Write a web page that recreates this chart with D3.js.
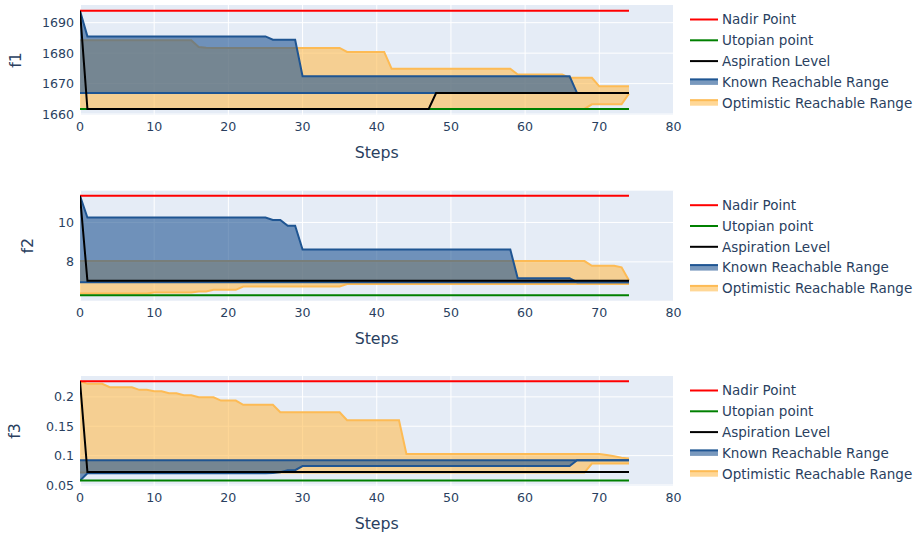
<!DOCTYPE html>
<html>
<head>
<meta charset="utf-8">
<script src="https://cdn.jsdelivr.net/npm/d3@7"></script>
<style>
  body { margin: 0; background: #fff; }
  text { font-family: "DejaVu Sans", Verdana, sans-serif; fill: #2a3f5f; }
</style>
</head>
<body>
<div id="chart"></div>
<script>
// steps on the x axis
var steps = [0,1,2,3,4,5,6,7,8,9,10,11,12,13,14,
  15,16,17,18,19,20,21,22,23,24,25,26,27,28,29,
  30,31,32,33,34,35,36,37,38,39,40,41,42,43,44,
  45,46,47,48,49,50,51,52,53,54,55,56,57,58,59,
  60,61,62,63,64,65,66,67,68,69,70,71,72,73,74];

var xTicks = [0,10,20,30,40,50,60,70,80];
var objectives = ["f1", "f2", "f3"];
var yTicks = [[1660,1670,1680,1690], [8,10], [0.05,0.1,0.15,0.2]];
var nadir = [1693.9, 11.35, 0.2265];
var utopian = [1661.7, 6.31, 0.0575];
var legendNames = ["Nadir Point", "Utopian point", "Aspiration Level", "Known Reachable Range", "Optimistic Reachable Range"];

// f1
var f1Aspiration = [1693.9,1661.7,1661.7,1661.7,1661.7,1661.7,1661.7,1661.7,1661.7,1661.7,1661.7,1661.7,1661.7,1661.7,1661.7,
  1661.7,1661.7,1661.7,1661.7,1661.7,1661.7,1661.7,1661.7,1661.7,1661.7,1661.7,1661.7,1661.7,1661.7,1661.7,
  1661.7,1661.7,1661.7,1661.7,1661.7,1661.7,1661.7,1661.7,1661.7,1661.7,1661.7,1661.7,1661.7,1661.7,1661.7,
  1661.7,1661.7,1661.7,1666.9,1666.9,1666.9,1666.9,1666.9,1666.9,1666.9,1666.9,1666.9,1666.9,1666.9,1666.9,
  1666.9,1666.9,1666.9,1666.9,1666.9,1666.9,1666.9,1666.9,1666.9,1666.9,1666.9,1666.9,1666.9,1666.9,1666.9];
var f1KnownUpper = [1693.9,1685.5,1685.5,1685.5,1685.5,1685.5,1685.5,1685.5,1685.5,1685.5,1685.5,1685.5,1685.5,1685.5,1685.5,
  1685.5,1685.5,1685.5,1685.5,1685.5,1685.5,1685.5,1685.5,1685.5,1685.5,1685.5,1684.4,1684.4,1684.4,1684.4,
  1672.4,1672.4,1672.4,1672.4,1672.4,1672.4,1672.4,1672.4,1672.4,1672.4,1672.4,1672.4,1672.4,1672.4,1672.4,
  1672.4,1672.4,1672.4,1672.4,1672.4,1672.4,1672.4,1672.4,1672.4,1672.4,1672.4,1672.4,1672.4,1672.4,1672.4,
  1672.4,1672.4,1672.4,1672.4,1672.4,1672.4,1672.4,1666.9,1666.9,1666.9,1666.9,1666.9,1666.9,1666.9,1666.9];
var f1KnownLower = [1666.9,1666.9,1666.9,1666.9,1666.9,1666.9,1666.9,1666.9,1666.9,1666.9,1666.9,1666.9,1666.9,1666.9,1666.9,
  1666.9,1666.9,1666.9,1666.9,1666.9,1666.9,1666.9,1666.9,1666.9,1666.9,1666.9,1666.9,1666.9,1666.9,1666.9,
  1666.9,1666.9,1666.9,1666.9,1666.9,1666.9,1666.9,1666.9,1666.9,1666.9,1666.9,1666.9,1666.9,1666.9,1666.9,
  1666.9,1666.9,1666.9,1666.9,1666.9,1666.9,1666.9,1666.9,1666.9,1666.9,1666.9,1666.9,1666.9,1666.9,1666.9,
  1666.9,1666.9,1666.9,1666.9,1666.9,1666.9,1666.9,1666.9,1666.9,1666.9,1666.9,1666.9,1666.9,1666.9,1666.9];
var f1OptUpper = [1684.2,1684.2,1684.2,1684.2,1684.2,1684.2,1684.2,1684.2,1684.2,1684.2,1684.2,1684.2,1684.2,1684.2,1684.2,
  1684.2,1682.0,1681.8,1681.7,1681.7,1681.7,1681.7,1681.7,1681.7,1681.7,1681.7,1681.7,1681.7,1681.7,1681.7,
  1681.7,1681.7,1681.7,1681.7,1681.7,1681.7,1680.4,1680.4,1680.4,1680.4,1680.4,1680.4,1674.9,1674.9,1674.9,
  1674.9,1674.9,1674.9,1674.9,1674.9,1674.9,1674.9,1674.9,1674.9,1674.9,1674.9,1674.9,1674.9,1674.9,1673.0,
  1673.0,1673.0,1673.0,1673.0,1673.0,1673.0,1671.9,1671.9,1671.9,1671.9,1669.1,1669.1,1669.1,1669.1,1669.1];
var f1OptLower = [1661.7,1661.7,1661.7,1661.7,1661.7,1661.7,1661.7,1661.7,1661.7,1661.7,1661.7,1661.7,1661.7,1661.7,1661.7,
  1661.7,1661.7,1661.7,1661.7,1661.7,1661.7,1661.7,1661.7,1661.7,1661.7,1661.7,1661.7,1661.7,1661.7,1661.7,
  1661.7,1661.7,1661.7,1661.7,1661.7,1661.7,1661.7,1661.7,1661.7,1661.7,1661.7,1661.7,1661.7,1661.7,1661.7,
  1661.7,1661.7,1661.7,1661.7,1661.7,1661.7,1661.7,1661.7,1661.7,1661.7,1661.7,1661.7,1661.7,1661.7,1661.7,
  1661.7,1661.7,1661.7,1661.7,1661.7,1661.7,1661.7,1661.7,1661.7,1663.2,1663.2,1663.2,1663.2,1663.2,1666.7];

// f2
var f2Aspiration = [11.35,7.04,7.04,7.04,7.04,7.04,7.04,7.04,7.04,7.04,7.04,7.04,7.04,7.04,7.04,
  7.04,7.04,7.04,7.04,7.04,7.04,7.04,7.04,7.04,7.04,7.04,7.04,7.04,7.04,7.04,
  7.04,7.04,7.04,7.04,7.04,7.04,7.04,7.04,7.04,7.04,7.04,7.04,7.04,7.04,7.04,
  7.04,7.04,7.04,7.04,7.04,7.04,7.04,7.04,7.04,7.04,7.04,7.04,7.04,7.04,7.04,
  7.04,7.04,7.04,7.04,7.04,7.04,7.04,7.04,7.04,7.04,7.04,7.04,7.04,7.04,7.04];
var f2KnownUpper = [11.35,10.25,10.25,10.25,10.25,10.25,10.25,10.25,10.25,10.25,10.25,10.25,10.25,10.25,10.25,
  10.25,10.25,10.25,10.25,10.25,10.25,10.25,10.25,10.25,10.25,10.25,10.13,10.13,9.83,9.83,
  8.63,8.63,8.63,8.63,8.63,8.63,8.63,8.63,8.63,8.63,8.63,8.63,8.63,8.63,8.63,
  8.63,8.63,8.63,8.63,8.63,8.63,8.63,8.63,8.63,8.63,8.63,8.63,8.63,8.63,7.17,
  7.17,7.17,7.17,7.17,7.17,7.17,7.17,6.97,6.97,6.97,6.97,6.97,6.97,6.97,6.97];
var f2KnownLower = [6.97,6.97,6.97,6.97,6.97,6.97,6.97,6.97,6.97,6.97,6.97,6.97,6.97,6.97,6.97,
  6.97,6.97,6.97,6.97,6.97,6.97,6.97,6.97,6.97,6.97,6.97,6.97,6.97,6.97,6.97,
  6.97,6.97,6.97,6.97,6.97,6.97,6.97,6.97,6.97,6.97,6.97,6.97,6.97,6.97,6.97,
  6.97,6.97,6.97,6.97,6.97,6.97,6.97,6.97,6.97,6.97,6.97,6.97,6.97,6.97,6.97,
  6.97,6.97,6.97,6.97,6.97,6.97,6.97,6.97,6.97,6.97,6.97,6.97,6.97,6.97,6.97];
var f2OptUpper = [8.04,8.04,8.04,8.04,8.04,8.04,8.04,8.04,8.04,8.04,8.04,8.04,8.04,8.04,8.04,
  8.04,8.04,8.04,8.04,8.04,8.04,8.04,8.04,8.04,8.04,8.04,8.04,8.04,8.04,8.04,
  8.04,8.04,8.04,8.04,8.04,8.04,8.04,8.04,8.04,8.04,8.04,8.04,8.04,8.04,8.04,
  8.04,8.04,8.04,8.04,8.04,8.04,8.04,8.04,8.04,8.04,8.04,8.04,8.04,8.04,8.04,
  8.04,8.04,8.04,8.04,8.04,8.04,8.04,8.04,8.04,7.80,7.80,7.80,7.80,7.72,7.05];
var f2OptLower = [6.40,6.40,6.40,6.40,6.40,6.40,6.40,6.40,6.40,6.40,6.45,6.45,6.45,6.45,6.45,
  6.45,6.50,6.50,6.58,6.58,6.58,6.58,6.75,6.75,6.75,6.75,6.75,6.75,6.75,6.75,
  6.75,6.75,6.75,6.75,6.75,6.75,6.88,6.88,6.88,6.88,6.88,6.88,6.88,6.88,6.88,
  6.88,6.88,6.88,6.88,6.88,6.88,6.88,6.88,6.88,6.88,6.88,6.88,6.88,6.88,6.88,
  6.88,6.88,6.88,6.88,6.88,6.88,6.88,6.88,6.88,6.88,6.88,6.88,6.88,6.88,6.88];

// f3
var f3Aspiration = [0.2265,0.0721,0.0721,0.0721,0.0721,0.0721,0.0721,0.0721,0.0721,0.0721,0.0721,0.0721,0.0721,0.0721,0.0721,
  0.0721,0.0721,0.0721,0.0721,0.0721,0.0721,0.0721,0.0721,0.0721,0.0721,0.0721,0.0721,0.0721,0.0721,0.0721,
  0.0721,0.0721,0.0721,0.0721,0.0721,0.0721,0.0721,0.0721,0.0721,0.0721,0.0721,0.0721,0.0721,0.0721,0.0721,
  0.0721,0.0721,0.0721,0.0721,0.0721,0.0721,0.0721,0.0721,0.0721,0.0721,0.0721,0.0721,0.0721,0.0721,0.0721,
  0.0721,0.0721,0.0721,0.0721,0.0721,0.0721,0.0721,0.0721,0.0721,0.0721,0.0721,0.0721,0.0721,0.0721,0.0721];
var f3KnownUpper = [0.092,0.092,0.092,0.092,0.092,0.092,0.092,0.092,0.092,0.092,0.092,0.092,0.092,0.092,0.092,
  0.092,0.092,0.092,0.092,0.092,0.092,0.092,0.092,0.092,0.092,0.092,0.092,0.092,0.092,0.092,
  0.092,0.092,0.092,0.092,0.092,0.092,0.092,0.092,0.092,0.092,0.092,0.092,0.092,0.092,0.092,
  0.092,0.092,0.092,0.092,0.092,0.092,0.092,0.092,0.092,0.092,0.092,0.092,0.092,0.092,0.092,
  0.092,0.092,0.092,0.092,0.092,0.092,0.092,0.092,0.092,0.092,0.092,0.092,0.092,0.092,0.092];
var f3KnownLower = [0.0575,0.0700,0.0700,0.0700,0.0700,0.0700,0.0700,0.0700,0.0700,0.0700,0.0700,0.0700,0.0700,0.0700,0.0700,
  0.0700,0.0700,0.0700,0.0700,0.0700,0.0700,0.0700,0.0700,0.0700,0.0700,0.0700,0.0706,0.0718,0.0752,0.0752,
  0.0822,0.0822,0.0822,0.0822,0.0822,0.0822,0.0822,0.0822,0.0822,0.0822,0.0822,0.0822,0.0822,0.0822,0.0822,
  0.0822,0.0822,0.0822,0.0822,0.0822,0.0822,0.0822,0.0822,0.0822,0.0822,0.0822,0.0822,0.0822,0.0822,0.0822,
  0.0822,0.0822,0.0822,0.0822,0.0822,0.0822,0.0822,0.092,0.092,0.092,0.092,0.092,0.092,0.092,0.092];
var f3OptUpper = [0.2265,0.2221,0.2221,0.2221,0.2163,0.2163,0.2163,0.2163,0.2119,0.2119,0.2095,0.2095,0.2061,0.2061,0.2027,
  0.2027,0.1993,0.1993,0.1993,0.1937,0.1937,0.1937,0.1864,0.1864,0.1864,0.1864,0.1864,0.1738,0.1738,0.1738,
  0.1738,0.1738,0.1738,0.1738,0.1738,0.1738,0.1602,0.1602,0.1602,0.1602,0.1602,0.1602,0.1602,0.1602,0.1027,
  0.1027,0.1027,0.1027,0.1027,0.1027,0.1027,0.1027,0.1027,0.1027,0.1027,0.1027,0.1027,0.1027,0.1027,0.1027,
  0.1027,0.1027,0.1027,0.1027,0.1027,0.1027,0.1027,0.1027,0.1027,0.1027,0.1027,0.1010,0.0988,0.0966,0.0950];
var f3OptLower = [0.0712,0.0712,0.0712,0.0712,0.0712,0.0712,0.0712,0.0712,0.0712,0.0712,0.0712,0.0712,0.0712,0.0712,0.0712,
  0.0712,0.0712,0.0712,0.0712,0.0712,0.0712,0.0712,0.0712,0.0712,0.0712,0.0712,0.0712,0.0712,0.0712,0.0712,
  0.0712,0.0712,0.0712,0.0712,0.0712,0.0712,0.0712,0.0712,0.0712,0.0712,0.0712,0.0712,0.0712,0.0712,0.0712,
  0.0712,0.0712,0.0712,0.0712,0.0712,0.0712,0.0712,0.0712,0.0712,0.0712,0.0712,0.0712,0.0712,0.0712,0.0712,
  0.0712,0.0712,0.0712,0.0712,0.0712,0.0712,0.0712,0.0712,0.0712,0.0864,0.0864,0.0864,0.0864,0.0864,0.0864];

var aspiration = [f1Aspiration, f2Aspiration, f3Aspiration];
var knownUpper = [f1KnownUpper, f2KnownUpper, f3KnownUpper];
var knownLower = [f1KnownLower, f2KnownLower, f3KnownLower];
var optUpper = [f1OptUpper, f2OptUpper, f3OptUpper];
var optLower = [f1OptLower, f2OptLower, f3OptLower];

// layout of the three panels
var W = 919, H = 533;
var left = 80, right = 673.5, panelH = 110;
var tops = [5, 190.7, 376];
var yDomains = [[1659.7, 1695.8], [6.03, 11.61], [0.0483, 0.2355]];
var yTitleX = [15, 27, 14];

var colors = {
  nadir: "#ff0000", utopian: "#008000", asp: "#000000",
  knownLine: "rgb(31,85,146)", knownFill: "rgba(31,85,146,0.6)",
  optLine: "#fdbb55", optFill: "rgba(255,188,80,0.6)"
};

var svg = d3.select("#chart").append("svg")
  .attr("width", W).attr("height", H);

var x = d3.scaleLinear().domain([0, 80]).range([left, right]);

objectives.forEach(function(name, k) {
  var top = tops[k], bottom = top + panelH;
  var y = d3.scaleLinear().domain(yDomains[k]).range([bottom, top]);
  var g = svg.append("g");

  g.append("rect")
    .attr("x", left).attr("y", top)
    .attr("width", right - left).attr("height", panelH)
    .attr("fill", "#e5ecf6");

  // grid
  g.selectAll(".gx").data(xTicks.slice(1)).enter().append("line")
    .attr("x1", function(d) { return x(d); }).attr("x2", function(d) { return x(d); })
    .attr("y1", top).attr("y2", bottom)
    .attr("stroke", "#fff").attr("stroke-width", 1);
  g.selectAll(".gy").data(yTicks[k]).enter().append("line")
    .attr("x1", left).attr("x2", right)
    .attr("y1", function(d) { return y(d); }).attr("y2", function(d) { return y(d); })
    .attr("stroke", "#fff").attr("stroke-width", 1);
  g.append("line")
    .attr("x1", x(0)).attr("x2", x(0)).attr("y1", top).attr("y2", bottom)
    .attr("stroke", "#fff").attr("stroke-width", 2);

  // clip
  var clipId = "clip" + k;
  svg.append("clipPath").attr("id", clipId).append("rect")
    .attr("x", left).attr("y", top).attr("width", right - left).attr("height", panelH);
  var p = g.append("g").attr("clip-path", "url(#" + clipId + ")");

  var idx = steps.map(function(s, i) { return i; });
  var area = function(lo, hi) {
    return d3.area().x(function(i) { return x(steps[i]); })
      .y0(function(i) { return y(lo[i]); })
      .y1(function(i) { return y(hi[i]); });
  };
  var line = function(arr) {
    return d3.line().x(function(i) { return x(steps[i]); })
      .y(function(i) { return y(arr[i]); });
  };

  // optimistic range
  p.append("path").datum(idx).attr("d", area(optLower[k], optUpper[k]))
    .attr("fill", colors.optFill);
  [optLower[k], optUpper[k]].forEach(function(arr) {
    p.append("path").datum(idx).attr("d", line(arr))
      .attr("fill", "none").attr("stroke", colors.optLine).attr("stroke-width", 2);
  });

  // known range
  p.append("path").datum(idx).attr("d", area(knownLower[k], knownUpper[k]))
    .attr("fill", colors.knownFill);
  [knownLower[k], knownUpper[k]].forEach(function(arr) {
    p.append("path").datum(idx).attr("d", line(arr))
      .attr("fill", "none").attr("stroke", colors.knownLine).attr("stroke-width", 2);
  });

  // nadir / utopian / aspiration
  var first = steps[0], last = steps[steps.length - 1];
  p.append("line")
    .attr("x1", x(first)).attr("x2", x(last))
    .attr("y1", y(nadir[k])).attr("y2", y(nadir[k]))
    .attr("stroke", colors.nadir).attr("stroke-width", 2);
  p.append("line")
    .attr("x1", x(first)).attr("x2", x(last))
    .attr("y1", y(utopian[k])).attr("y2", y(utopian[k]))
    .attr("stroke", colors.utopian).attr("stroke-width", 2);
  p.append("path").datum(idx).attr("d", line(aspiration[k]))
    .attr("fill", "none").attr("stroke", colors.asp).attr("stroke-width", 2);

  // axes labels
  g.selectAll(".xt").data(xTicks).enter().append("text")
    .attr("x", function(d) { return x(d); })
    .attr("y", bottom + 15.8)
    .attr("text-anchor", "middle")
    .style("font-size", "12.6px")
    .text(function(d) { return d; });
  g.selectAll(".yt").data(yTicks[k]).enter().append("text")
    .attr("x", left - 6)
    .attr("y", function(d) { return y(d); })
    .attr("dy", "0.36em")
    .attr("text-anchor", "end")
    .style("font-size", "12.6px")
    .text(function(d) { return d; });

  g.append("text")
    .attr("x", (left + right) / 2).attr("y", bottom + 43)
    .attr("text-anchor", "middle")
    .style("font-size", "15.8px")
    .text("Steps");
  g.append("text")
    .attr("transform", "translate(" + (yTitleX[k] + 6) + "," + ((top + bottom) / 2) + ") rotate(-90)")
    .attr("text-anchor", "middle")
    .style("font-size", "15.8px")
    .text(name);

  // legend
  var lg = g.append("g");
  legendNames.forEach(function(n, i) {
    var ly = top + 14.5 + 20.8 * i;
    if (i < 3) {
      lg.append("line").attr("x1", 690).attr("x2", 718).attr("y1", ly).attr("y2", ly)
        .attr("stroke", [colors.nadir, colors.utopian, colors.asp][i]).attr("stroke-width", 2);
    } else {
      var fc = i === 3 ? colors.knownFill : colors.optFill;
      var lc = i === 3 ? colors.knownLine : colors.optLine;
      lg.append("rect").attr("x", 690).attr("y", ly - 3).attr("width", 28).attr("height", 6)
        .attr("fill", fc);
      lg.append("line").attr("x1", 690).attr("x2", 718).attr("y1", ly - 2.5).attr("y2", ly - 2.5)
        .attr("stroke", lc).attr("stroke-width", 2);
    }
    lg.append("text").attr("x", 722).attr("y", ly).attr("dy", "0.36em")
      .style("font-size", "13.5px")
      .text(n);
  });
});
</script>
</body>
</html>
